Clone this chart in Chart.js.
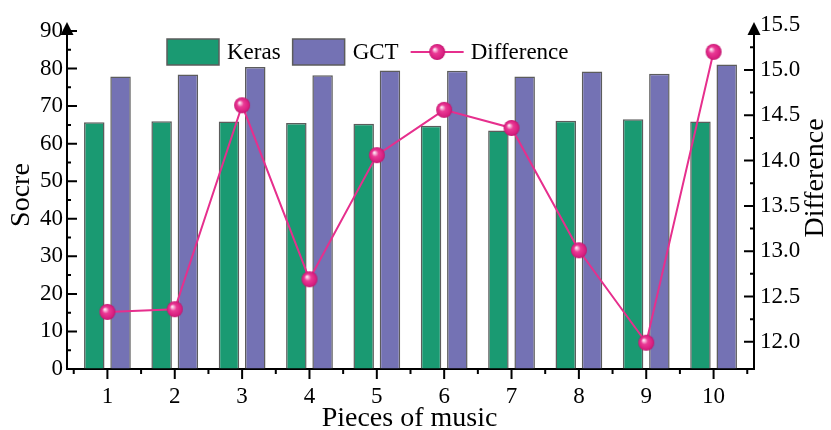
<!DOCTYPE html>
<html>
<head>
<meta charset="utf-8">
<script src="https://cdn.jsdelivr.net/npm/chart.js@4/dist/chart.umd.min.js"></script>
<style>
  html, body { margin: 0; padding: 0; background: #ffffff; }
  #wrap { width: 831px; height: 430px; }
</style>
</head>
<body>
<div id="wrap"><canvas id="chart" width="831" height="430"></canvas></div>
<script>
// ---- data ----
const pieces = [1, 2, 3, 4, 5, 6, 7, 8, 9, 10];
const kerasScores = [65.7, 66.0, 65.9, 65.5, 65.3, 64.8, 63.5, 66.1, 66.5, 65.9];
const gctScores = [77.9, 78.4, 80.4, 78.2, 79.5, 79.4, 77.9, 79.2, 78.6, 81.1];
const differences = [12.33, 12.36, 14.61, 12.69, 14.06, 14.56, 14.36, 13.01, 11.99, 15.20];
const scoreTicks = [0, 10, 20, 30, 40, 50, 60, 70, 80, 90];
const diffTicks = [12.0, 12.5, 13.0, 13.5, 14.0, 14.5, 15.0, 15.5];

const seriesNames = ['Keras', 'GCT', 'Difference'];
const axisTitles = { x: 'Pieces of music', y: 'Socre', y1: 'Difference' };

// ---- styling ----
const SERIF = "'Liberation Serif', 'Times New Roman', serif";
const GREEN = '#1a9a72';
const PURPLE = '#7472b4';
const PINK = '#e62f8d';
const BAR_EDGE = '#5c5c5c';

// glossy ball used as the marker of the difference line
function makeBall(r) {
  const size = Math.ceil(r * 2 + 2);
  const cv = document.createElement('canvas');
  cv.width = size; cv.height = size;
  const g = cv.getContext('2d');
  const c = size / 2;
  const grad = g.createRadialGradient(c - r * 0.35, c - r * 0.35, 0, c, c, r);
  grad.addColorStop(0, '#ffffff');
  grad.addColorStop(0.16, '#f8bcdc');
  grad.addColorStop(0.42, '#ea3a95');
  grad.addColorStop(0.85, '#d81f80');
  grad.addColorStop(1, '#bd146c');
  g.fillStyle = grad;
  g.beginPath(); g.arc(c, c, r, 0, Math.PI * 2); g.fill();
  return cv;
}
const ball = makeBall(8);

// inward/outward tick marks, arrow heads, axis titles and the legend
const decor = {
  id: 'decor',
  afterDraw(chart) {
    const { ctx, chartArea: a, scales } = chart;
    const xs = scales.x, yl = scales.y, yr = scales.y1;
    ctx.save();
    ctx.strokeStyle = '#000';
    ctx.fillStyle = '#000';
    ctx.lineWidth = 2;
    ctx.beginPath();
    // left axis: ticks pointing into the plot
    scoreTicks.forEach((v, i) => {
      const p = yl.getPixelForValue(v);
      ctx.moveTo(a.left, p); ctx.lineTo(a.left + 10, p);
      if (i > 0) {
        const m = yl.getPixelForValue((v + scoreTicks[i - 1]) / 2);
        ctx.moveTo(a.left, m); ctx.lineTo(a.left + 4, m);
      }
    });
    // right axis
    diffTicks.forEach((v, i) => {
      const p = yr.getPixelForValue(v);
      if (p >= a.top - 1) { ctx.moveTo(a.right, p); ctx.lineTo(a.right - 10, p); }
      if (i > 0) {
        const m = yr.getPixelForValue((v + diffTicks[i - 1]) / 2);
        ctx.moveTo(a.right, m); ctx.lineTo(a.right - 4, m);
      }
    });
    // bottom axis: ticks pointing down
    pieces.forEach((v, i) => {
      const p = xs.getPixelForValue(v);
      ctx.moveTo(p, a.bottom); ctx.lineTo(p, a.bottom + 10);
      const m = xs.getPixelForValue(v - 0.5);
      ctx.moveTo(m, a.bottom); ctx.lineTo(m, a.bottom + 5);
      if (i === pieces.length - 1) {
        const e = xs.getPixelForValue(v + 0.5);
        ctx.moveTo(e, a.bottom); ctx.lineTo(e, a.bottom + 5);
      }
    });
    // axis extensions up to the arrow heads
    const tip = a.top - 9;
    ctx.moveTo(a.left, a.top); ctx.lineTo(a.left, tip + 6);
    ctx.moveTo(a.right, a.top); ctx.lineTo(a.right, tip + 6);
    ctx.stroke();
    [a.left, a.right].forEach(px => {
      ctx.beginPath();
      ctx.moveTo(px, tip);
      ctx.lineTo(px - 6.5, tip + 13);
      ctx.lineTo(px + 6.5, tip + 13);
      ctx.closePath();
      ctx.fill();
    });

    // axis titles
    ctx.font = '28px ' + SERIF;
    ctx.textAlign = 'center';
    ctx.textBaseline = 'middle';
    const midY = (a.top + a.bottom) / 2;
    ctx.save(); ctx.translate(22, midY - 5); ctx.rotate(-Math.PI / 2);
    ctx.fillText(axisTitles.y, 0, 0); ctx.restore();
    ctx.save(); ctx.translate(816, midY - 22); ctx.rotate(-Math.PI / 2);
    ctx.fillText(axisTitles.y1, 0, 0); ctx.restore();
    ctx.fillText(axisTitles.x, (a.left + a.right) / 2 - 1, 419);

    // legend
    ctx.font = '23px ' + SERIF;
    ctx.textAlign = 'left';
    const ly = a.top + 21;
    let cx = 167;
    chart.data.datasets.forEach((ds, i) => {
      if (ds.type === 'line') {
        ctx.strokeStyle = ds.borderColor; ctx.lineWidth = 2;
        ctx.beginPath(); ctx.moveTo(cx, ly); ctx.lineTo(cx + 53, ly); ctx.stroke();
        ctx.drawImage(ball, cx + 26.5 - ball.width / 2, ly - ball.height / 2);
        cx += 53 + 7;
      } else {
        ctx.fillStyle = ds.backgroundColor;
        ctx.fillRect(cx, ly - 13, 52, 26);
        ctx.strokeStyle = BAR_EDGE; ctx.lineWidth = 1.5;
        ctx.strokeRect(cx, ly - 13, 52, 26);
        cx += 52 + 8;
      }
      ctx.fillStyle = '#000';
      ctx.fillText(ds.label, cx, ly + 1);
      cx += ctx.measureText(ds.label).width + 12;
    });
    ctx.restore();
  }
};

new Chart(document.getElementById('chart'), {
  type: 'bar',
  data: {
    labels: pieces,
    datasets: [
      { label: seriesNames[0], data: kerasScores, backgroundColor: GREEN,
        borderColor: BAR_EDGE, borderWidth: 1.5, yAxisID: 'y', order: 1,
        categoryPercentage: 0.78, barPercentage: 0.78 },
      { label: seriesNames[1], data: gctScores, backgroundColor: PURPLE,
        borderColor: BAR_EDGE, borderWidth: 1.5, yAxisID: 'y', order: 1,
        categoryPercentage: 0.78, barPercentage: 0.78 },
      { type: 'line', label: seriesNames[2], data: differences, yAxisID: 'y1', order: 0,
        borderColor: PINK, borderWidth: 2, backgroundColor: PINK, fill: false,
        tension: 0, pointStyle: ball, pointRadius: 8, pointHoverRadius: 8 }
    ]
  },
  options: {
    responsive: false,
    devicePixelRatio: 1,
    animation: false,
    layout: { padding: { top: 31, left: 0, right: 0, bottom: 0 } },
    plugins: { legend: { display: false }, tooltip: { enabled: false } },
    scales: {
      x: {
        type: 'linear', min: 0.4, max: 10.6, offset: false,
        afterBuildTicks: s => { s.ticks = pieces.map(v => ({ value: v })); },
        afterFit: s => { s.height = 61; },
        grid: { display: true, offset: false, drawOnChartArea: false, drawTicks: false },
        border: { display: true, color: '#000', width: 2 },
        ticks: { color: '#000', font: { family: SERIF, size: 23 }, padding: 14,
                 autoSkip: false, maxRotation: 0, callback: v => String(v) }
      },
      y: {
        position: 'left', min: 0, max: 90,
        afterBuildTicks: s => { s.ticks = scoreTicks.map(v => ({ value: v })); },
        afterFit: s => { s.width = 67; },
        grid: { display: true, drawOnChartArea: false, drawTicks: false },
        border: { display: true, color: '#000', width: 2 },
        ticks: { color: '#000', font: { family: SERIF, size: 23 }, padding: 4,
                 autoSkip: false, callback: v => String(v) }
      },
      y1: {
        position: 'right', min: 11.7, max: 15.43,
        afterBuildTicks: s => { s.ticks = diffTicks.map(v => ({ value: v })); },
        afterFit: s => { s.width = 77; },
        grid: { display: true, drawOnChartArea: false, drawTicks: false },
        border: { display: true, color: '#000', width: 2 },
        ticks: { color: '#000', font: { family: SERIF, size: 23 }, padding: 6,
                 autoSkip: false, callback: v => v.toFixed(1) }
      }
    }
  },
  plugins: [decor]
});
</script>
</body>
</html>
